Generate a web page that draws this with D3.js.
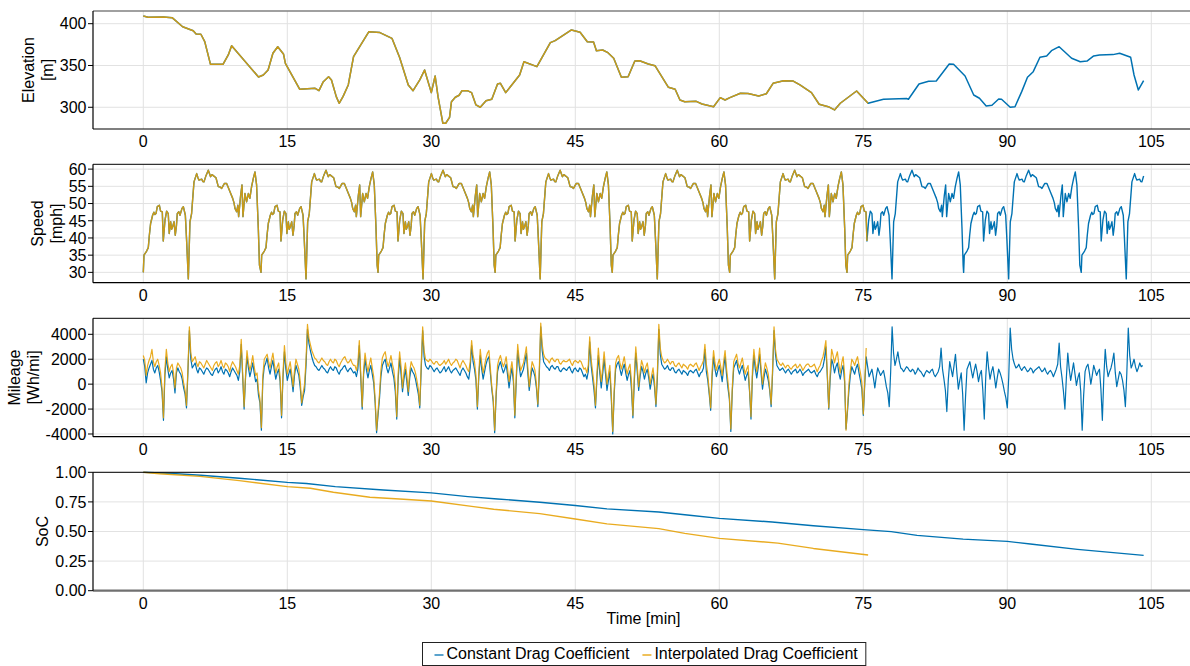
<!DOCTYPE html>
<html>
<head>
<meta charset="utf-8">
<script src="https://cdn.jsdelivr.net/npm/d3@7"></script>
<style>
  body { margin: 0; background: #fff; }
  svg { font-family: "Liberation Sans", Arial, Helvetica, sans-serif; }
</style>
</head>
<body>
<svg id="chart" width="1190" height="666"></svg>
<script>
/* global d3 */

// ---- data ----
const timeTicks = [0, 15, 30, 45, 60, 75, 90, 105];
const elevTicks = [300, 350, 400];
const speedTicks = [30, 35, 40, 45, 50, 55, 60];
const mileTicks = [-4000, -2000, 0, 2000, 4000];
const socTicks = [0, 0.25, 0.5, 0.75, 1.0];

const seriesNames = ['Constant Drag Coefficient', 'Interpolated Drag Coefficient'];

const endConst = 104.2;   // min, constant-Cd run ends
const endInterp = 75.5;   // min, interpolated-Cd run ends (battery limit)

// elevation [min, m] (same road for both runs)
const elevation = [[0,409.2],[0.5,407.7],[2.1,407.9],[3.0,407.2],[4.1,396.4],[5.2,391.6],[5.5,387.7],[6.0,387.4],[6.4,378.5],[7.0,351.4],[8.3,351.4],[8.85,362.6],[9.2,373.7],[12.0,336.2],[12.5,338.6],[13.0,344.6],[13.5,364.6],[14.0,372.5],[14.6,363.8],[14.8,352.6],[16.3,321.5],[17.9,322.7],[18.3,319.9],[18.75,330.6],[19.3,336.6],[19.6,332.7],[20.1,312.7],[20.4,304.8],[20.8,312.7],[21.35,326.7],[21.9,360.5],[23.5,390.4],[24.65,389.4],[25.9,382.5],[26.7,359.5],[27.6,326.7],[28.1,319.9],[28.8,332.7],[29.3,344.6],[30.0,317.5],[30.4,337.4],[30.7,312.7],[31.2,280.9],[31.5,280.9],[31.9,288],[32.1,306.7],[32.5,312],[32.9,314.4],[33.2,319.9],[33.75,319.9],[34.2,317.5],[34.65,302.8],[35.1,300],[35.7,307.9],[36.3,309.6],[36.9,327.9],[37.2,328.7],[37.75,317.5],[39.2,338.6],[39.65,354.5],[41.0,348.6],[42.4,377.3],[42.9,379.7],[44.6,392.5],[45.5,389.7],[46.25,378.5],[46.9,378.1],[47.2,367.7],[47.85,368.5],[48.4,365.3],[49.0,358.6],[49.8,335.9],[50.5,336.6],[51.2,355.4],[51.7,355.6],[52.6,351.8],[53.3,349.8],[54.7,323.9],[55.4,321.5],[55.9,308.7],[56.4,306.7],[57.6,307.1],[58.2,303.9],[59.4,300.7],[60.1,311.5],[60.6,308.7],[61.1,311.5],[62.2,316.7],[63.0,316.5],[64.1,313.5],[64.9,316.2],[65.6,328.7],[66.7,331.8],[67.7,331.4],[68.4,326.7],[69.6,317.5],[70.4,303.6],[71.35,300.7],[72.0,296.8],[72.6,304.8],[74.3,319.5],[75.5,304.8],[77.1,309.6],[79.5,310.4],[79.7,309.6],[80.8,327.9],[81.8,331.1],[82.6,331.4],[83.95,351.8],[84.4,351.4],[85.6,337.4],[86.5,314.7],[87.1,310.8],[87.8,301.6],[88.4,302.4],[89.1,309.9],[89.4,309.6],[90.3,300],[90.8,300.7],[91.5,318.7],[92.1,335.9],[92.7,342.6],[93.4,359.8],[94.1,361.4],[94.6,367.7],[95.4,372.5],[96.7,358.6],[97.6,354.5],[98.3,355.3],[99.0,361.4],[99.6,362.6],[101.0,363],[101.7,364.6],[102.85,359.8],[103.2,338.6],[103.65,320.7],[104.2,331.8]];

// speed: the drive cycle is run in laps; start time of each lap [min]
const lapStarts = [0, 12.26, 24.45, 36.65, 48.85, 61.08, 73.3, 85.45, 97.7];
// one lap of the speed trace [min into lap, mph]
const speedLap = [[0,30],[0.07,35],[0.35,36.2],[0.52,37.2],[0.63,40.8],[0.76,44.2],[0.97,46.6],[1.1,47.5],[1.2,46.8],[1.32,47.1],[1.46,49.1],[1.67,49.5],[1.8,47.8],[1.98,47.6],[2.08,39.1],[2.26,45.2],[2.43,47.8],[2.6,47.1],[2.7,41.3],[2.85,44.7],[2.95,42.5],[3.06,43.3],[3.2,44.7],[3.33,40.8],[3.45,43.5],[3.54,47.1],[3.7,47.6],[3.82,46.6],[4.03,48.6],[4.17,49.1],[4.38,46.6],[4.5,39.9],[4.69,28.1],[4.86,44.7],[5.03,47.1],[5.28,56.3],[5.56,58.7],[5.7,57.4],[5.8,56.8],[6.08,57.1],[6.2,56.4],[6.32,56.3],[6.53,58.1],[6.77,59.7],[7.01,57.8],[7.15,58.4],[7.29,58.1],[7.57,57.5],[7.81,54.9],[8.0,54.8],[8.16,54.4],[8.44,55.8],[8.68,55.8],[9.03,53.4],[9.31,51.5],[9.45,50.2],[9.55,48.6],[9.72,47.6],[9.85,49.5],[9.93,46.2],[10.14,52.4],[10.28,55.4],[10.38,46.2],[10.59,52.9],[10.76,50.5],[10.94,52.9],[11.1,51.5],[11.28,54.9],[11.46,57.3],[11.63,59.2],[11.8,55.4],[11.98,42.8],[12.1,32.1]];

// mileage [Wh/mi], one value every mileStep minutes from t = 0
const mileStep = 0.15;
const mileageConst = [
  2000, 1400, 100, 900, 1300, 1600, 1900, 1200, 900, 1300, 1500, 1000, 300, -600, -2900, 700, 2200, 1200, 500, 900,
  1100, 400, -700, 900, 1300, 1000, 800, 400, -300, -800, -1900, 1000, 4300, 2000, 1300, 1500, 1700, 1200, 900, 1300,
  1200, 1000, 800, 1100, 1300, 1200, 1000, 800, 700, 1000, 1200, 1300, 900, 1100, 1400, 1000, 800, 1200, 1100, 900,
  600, 1000, 1300, 1100, 900, 700, 300, 1000, 3200, 600, -2000, 500, 2200, 1300, 600, 1100, 1700, 900, 200, 400,
  -900, -1500, -3700, 300, 1400, 1700, 2100, 1300, 800, 1400, 1900, 1100, 400, 900, 1200, 200, -2700, 500, 2600, 1200,
  300, 800, 1200, 400, -600, 700, 1500, 1100, 700, -300, -1700, -1000, -500, 1500, 4400, 3300, 2700, 2200, 1800, 1500,
  1400, 1200, 1100, 1300, 1500, 1300, 1200, 1000, 900, 1200, 1400, 1200, 1100, 1400, 1300, 1000, 800, 1100, 1200, 1400,
  1500, 1200, 1000, 1200, 1300, 1100, 900, 1000, 600, 1200, 3100, 500, -2000, 800, 2000, 1100, 500, 1100, 1500, 800,
  100, -1500, -3900, -2500, -1200, 600, 1500, 1800, 2000, 1300, 900, 1300, 1700, 1000, 500, -600, -2800, 400, 2100, 800,
  -600, 400, 1200, 200, -900, 500, 1300, 1000, 800, 400, -200, -800, -1900, 1200, 4300, 2200, 1500, 1300, 1200, 1500,
  1400, 1200, 1000, 1200, 1300, 1100, 900, 1000, 1200, 1400, 1000, 1200, 1400, 1100, 900, 1100, 1200, 1300, 1100, 900,
  700, 1100, 1300, 1100, 900, 600, 400, 1300, 3100, 1800, 1200, 300, -2000, 600, 2300, 1200, 400, 1000, 1600, 2000,
  2200, 900, -400, -1400, -3900, -1000, 1000, 1500, 1800, 1300, 900, 1200, 1600, 700, -300, 600, 1300, 200, -2700, 300,
  2700, 1500, 600, 900, 1200, 1800, 2500, 900, -500, 500, 1300, 1000, 600, -300, -1800, 800, 4600, 2700, 1800, 1600,
  1400, 1300, 1100, 1400, 1500, 1300, 1200, 1400, 1400, 1100, 1000, 1200, 1300, 1200, 1100, 1300, 1400, 1100, 900, 1200,
  1300, 1100, 1000, 1300, 1200, 900, 600, 800, 400, 1000, 3400, 1500, 500, -500, -1900, 400, 2300, 900, -300, 800,
  2000, 800, -500, 300, 1000, -1200, -4000, -800, 1200, 1600, 1800, 1200, 700, 1200, 1600, 900, 300, 800, 1100, -400,
  -2700, 300, 2500, 1000, -500, 600, 1400, 1000, 400, 900, 1200, 500, -400, 300, 800, -200, -1800, 500, 4400, 2400,
  1600, 1400, 1200, 1300, 1500, 1200, 1100, 1300, 1300, 1000, 900, 1100, 1200, 1000, 800, 1100, 1000, 900, 700, 1000,
  1100, 1000, 900, 1100, 1200, 900, 600, 900, 1000, 1300, 2800, 1000, 300, -800, -2100, 600, 2200, 1200, 600, 1100,
  1500, 900, 200, 1300, 2200, 800, -300, -1200, -3800, -600, 1300, 1600, 1900, 1200, 800, 1200, 1500, 900, 300, 700,
  1000, -600, -2800, 600, 2300, 1200, 500, 1300, 2400, 900, -400, 500, 1200, 800, 300, -500, -1800, 900, 4300, 2400,
  1500, 1300, 1100, 1200, 1300, 1100, 900, 1100, 1200, 1000, 800, 1000, 1100, 1200, 900, 1000, 1200, 1000, 700, 900,
  1000, 1100, 1200, 1000, 900, 1000, 1100, 800, 600, 900, 1000, 1200, 1400, 2000, 3000, 600, -2000, 400, 2000, 1600,
  900, 1400, 1700, 900, 400, 1100, 1500, 200, -3600, -2200, -500, 700, 1400, 1100, 800, 1300, 1600, 900, 300, -400,
  -2500, 0, 2200, 1400, 600, 900, 1200, 500, -300, 600, 1300, 1000, 700, 900, 1100, 500, -200, -700, -1800, 1000,
  4600, 2500, 1500, 2000, 2600, 1800, 1300, 1200, 1000, 1200, 1400, 1300, 1100, 1000, 1200, 1100, 800, 1000, 1300, 1100,
  1000, 800, 600, 900, 1100, 1000, 900, 1100, 1200, 800, 600, 800, 1000, 1400, 2900, 1200, 400, -500, -2200, 300,
  1800, 1200, 600, 1500, 2400, 900, -400, 300, 900, -800, -3700, -1000, 1200, 1500, 1800, 1100, 500, 1100, 1600, 1000,
  200, 800, 1100, -500, -2800, 500, 2600, 1300, 400, 1000, 1400, 600, -300, 500, 1200, 900, 500, 0, -600, -1100,
  -1900, 600, 4500, 2800, 2000, 1600, 1300, 1400, 1600, 1300, 1100, 1300, 1400, 1200, 1000, 1100, 1300, 1200, 900, 1100,
  1200, 1300, 1400, 1200, 1000, 1100, 1300, 1000, 800, 1000, 1100, 900, 600, 900, 1200, 1600, 3300, 1400, 500, -600,
  -2000, 500, 2500, 1200, 300, 1000, 1700, 800, -100, 500, 900, -600, -3700, -900, 1000, 1400, 1600, 900, 0, 700,
  1500, 1100, 700, 1000, 1200, -400, -2900, 500, 2800, 1400, 600, 1000, 1300, 1800, 2500, 900, -200, 400, 1000, 800,
  300, -500, -1800, 900, 4500, 2300, 1300, 1600, 2000, 1400, 1000, 1300, 1700, 1400, 1500
];
const mileageInterp = [
  2300, 1900, 700, 1500, 1900, 2200, 2800, 1800, 1400, 1800, 2000, 1500, 900, -300, -2700, 1200, 2800, 1700, 1000, 1400,
  1600, 900, -300, 1300, 1700, 1500, 1300, 900, 100, -500, -1700, 1300, 4600, 2500, 1800, 2000, 2200, 1700, 1400, 1800,
  1700, 1500, 1300, 1600, 1900, 1700, 1500, 1300, 1100, 1500, 1700, 1800, 1400, 1600, 1900, 1500, 1300, 1700, 1600, 1400,
  1000, 1500, 1800, 1600, 1400, 1100, 800, 1500, 3600, 900, -1800, 800, 2700, 1700, 1100, 1600, 2300, 1400, 700, 900,
  -500, -1200, -3500, 700, 2000, 2200, 2400, 1800, 1300, 1900, 2500, 1600, 900, 1400, 1700, 600, -2500, 900, 3100, 1700,
  800, 1300, 1800, 900, -200, 1100, 2000, 1600, 1200, 200, -1500, -700, 0, 2000, 4800, 3700, 3200, 2700, 2400, 2100,
  2000, 1800, 1700, 1900, 2100, 1900, 1800, 1600, 1500, 1800, 2000, 1800, 1700, 2000, 1900, 1600, 1400, 1700, 1900, 2100,
  2200, 1900, 1700, 1800, 2000, 1700, 1500, 1500, 1100, 1700, 3500, 900, -1800, 1200, 2500, 1600, 1000, 1600, 2100, 1300,
  600, -1200, -3700, -2200, -800, 1100, 2100, 2400, 2600, 1900, 1400, 1800, 2300, 1600, 1100, 0, -2600, 900, 2600, 1400,
  -300, 900, 1700, 700, -600, 1000, 1800, 1500, 1300, 900, 300, -400, -1700, 1600, 4600, 2700, 2000, 1900, 1800, 2000,
  1900, 1700, 1600, 1800, 1800, 1600, 1500, 1600, 1700, 1900, 1600, 1800, 2000, 1700, 1500, 1700, 1800, 2000, 1900, 1600,
  1300, 1700, 1900, 1700, 1500, 1200, 1000, 1800, 3500, 2300, 1800, 700, -1800, 1000, 2800, 1700, 900, 1500, 2100, 2500,
  2700, 1300, -200, -1200, -3700, -700, 1500, 2000, 2300, 1800, 1400, 1700, 2200, 1200, 200, 1100, 1800, 700, -2500, 700,
  3200, 2000, 1100, 1400, 1700, 2300, 3000, 1400, -200, 900, 1800, 1500, 1100, 0, -1600, 1300, 4900, 3200, 2400, 2100,
  2000, 1900, 1700, 2000, 2100, 1900, 1800, 2000, 2000, 1700, 1600, 1800, 1900, 1800, 1800, 1900, 2000, 1700, 1500, 1800,
  1900, 1800, 1700, 1900, 1800, 1500, 1200, 1300, 900, 1500, 3800, 2000, 1000, 0, -1700, 800, 2900, 1400, 200, 1300,
  2600, 1300, 0, 800, 1500, -800, -3800, -500, 1700, 2100, 2300, 1700, 1200, 1700, 2200, 1400, 800, 1300, 1600, 200,
  -2500, 800, 3000, 1500, -200, 1000, 1900, 1500, 900, 1400, 1700, 900, 0, 700, 1300, 200, -1600, 1000, 4800, 2900,
  2200, 1900, 1700, 1800, 2000, 1800, 1600, 1800, 1800, 1500, 1400, 1600, 1700, 1500, 1300, 1600, 1500, 1400, 1200, 1500,
  1600, 1500, 1400, 1600, 1700, 1400, 1100, 1400, 1600, 1900, 3200, 1600, 800, -600, -1900, 1100, 2700, 1700, 1100, 1600,
  2000, 1400, 700, 1800, 2700, 1300, 200, -1000, -3600, -300, 1800, 2100, 2400, 1700, 1300, 1700, 2100, 1400, 800, 1200,
  1500, -400, -2600, 1100, 2800, 1700, 1000, 1800, 2900, 1300, 0, 1000, 1700, 1300, 800, -300, -1600, 1300, 4600, 2800,
  2000, 1800, 1600, 1500, 1700, 1500, 1300, 1500, 1500, 1300, 1200, 1400, 1500, 1600, 1300, 1400, 1600, 1400, 1100, 1300,
  1500, 1600, 1600, 1400, 1400, 1500, 1600, 1300, 1000, 1300, 1500, 1900, 2200, 2800, 3500, 900, -1900, 1000, 2800, 2300,
  1700, 2200, 2600, 1600, 900, 1700, 2200, 800, -3700, -2000, 0, 1100, 2000, 1800, 1500, 1900, 2200, 1500, 900, 100,
  -2400, 300, 2900
];

// state of charge [min, fraction]
const socConst = [[0,1.0],[3,0.99],[6,0.975],[10,0.95],[15,0.915],[17,0.905],[20,0.879],[25,0.851],[30,0.826],[33.8,0.795],[36.9,0.775],[41.3,0.747],[45,0.719],[48.3,0.691],[53.7,0.665],[56.9,0.637],[60,0.611],[65.5,0.58],[69.8,0.549],[75,0.516],[77.9,0.499],[80.6,0.467],[85.4,0.436],[90,0.417],[92.4,0.394],[97.3,0.349],[104.2,0.298]];
const socInterp = [[0,1.0],[1.7,0.988],[5.9,0.966],[10,0.93],[15,0.879],[17.4,0.865],[19.8,0.831],[23.6,0.789],[26.7,0.775],[30,0.758],[34.4,0.71],[36.5,0.688],[41.3,0.651],[45,0.606],[48.3,0.564],[53.7,0.524],[56.4,0.484],[60,0.442],[66.1,0.402],[69.8,0.357],[75.5,0.301]];

// ---- assemble series ----
var speedAll = [];
lapStarts.forEach(function(start, i) {
  var next = i + 1 < lapStarts.length ? lapStarts[i + 1] : Infinity;
  speedLap.forEach(function(p) {
    var t = start + p[0];
    if (t < next) speedAll.push([t, p[1]]);
  });
});
speedAll.push([endConst, 58]);
speedAll = speedAll.filter(d => d[0] <= endConst).sort((a, b) => a[0] - b[0]);

const upTo = (arr, end) => arr.filter(d => d[0] <= end + 1e-9);
const mileSeries = arr => arr.map((v, i) => [i * mileStep, v]);

const blue = '#0072B2';
const orange = '#E69F00';

const panels = [
  { top: 11, bottom: 129, domain: [274, 415.2], ticks: elevTicks, fmt: d => String(d),
    title: ['Elevation', '[m]'], topLine: '#808080', bottomLine: '#000',
    series: [upTo(elevation, endConst), upTo(elevation, endInterp)], width: 1.5 },
  { top: 164.3, bottom: 282.7, domain: [27.0, 61.4], ticks: speedTicks, fmt: d => String(d),
    title: ['Speed', '[mph]'], topLine: '#000', bottomLine: '#000',
    series: [speedAll, upTo(speedAll, 75.4)], width: 1.4 },
  { top: 318.3, bottom: 436.7, domain: [-4217, 5284], ticks: mileTicks, fmt: d => String(d),
    title: ['Mileage', '[Wh/mi]'], topLine: '#000', bottomLine: '#000',
    series: [mileSeries(mileageConst), mileSeries(mileageInterp)], width: 1.2 },
  { top: 472.3, bottom: 590.7, domain: [0, 1], ticks: socTicks, fmt: d3.format('.2f'),
    title: ['SoC'], topLine: '#000', bottomLine: '#707070',
    series: [socConst, socInterp], width: 1.4 }
];

// ---- drawing ----
const svg = d3.select('#chart');
const x = d3.scaleLinear().domain([-5.24, 109.03]).range([93, 1190]);
const left = x.range()[0], right = x.range()[1];

panels.forEach(function(p) {
  var y = d3.scaleLinear().domain(p.domain).range([p.bottom, p.top]);
  var g = svg.append('g');

  g.selectAll('line.gx').data(timeTicks).enter().append('line')
    .attr('class', 'gx')
    .attr('x1', d => x(d)).attr('x2', d => x(d))
    .attr('y1', p.top).attr('y2', p.bottom)
    .attr('stroke', '#e2e2e2').attr('stroke-width', 1);

  g.selectAll('line.gy').data(p.ticks).enter().append('line')
    .attr('class', 'gy')
    .attr('x1', left).attr('x2', right)
    .attr('y1', d => y(d)).attr('y2', d => y(d))
    .attr('stroke', '#e2e2e2').attr('stroke-width', 1);

  var line = d3.line().x(d => x(d[0])).y(d => y(d[1]));
  [blue, orange].forEach(function(c, i) {
    g.append('path').datum(p.series[i])
      .attr('d', line)
      .attr('fill', 'none')
      .attr('stroke', c)
      .attr('stroke-opacity', i === 1 ? 0.88 : 1)
      .attr('stroke-width', p.width)
      .attr('stroke-linejoin', 'round');
  });

  // frame
  g.append('line').attr('x1', left).attr('x2', right).attr('y1', p.top).attr('y2', p.top)
    .attr('stroke', p.topLine).attr('stroke-width', p.topLine === '#000' ? 1 : 1.6);
  g.append('line').attr('x1', left).attr('x2', right).attr('y1', p.bottom).attr('y2', p.bottom)
    .attr('stroke', p.bottomLine).attr('stroke-width', p.bottomLine === '#000' ? 1.2 : 2.2);
  g.append('line').attr('x1', left).attr('x2', left).attr('y1', p.top).attr('y2', p.bottom)
    .attr('stroke', '#000').attr('stroke-width', 1.2);

  // y ticks and labels
  g.selectAll('line.ty').data(p.ticks).enter().append('line')
    .attr('class', 'ty')
    .attr('x1', left - 5).attr('x2', left)
    .attr('y1', d => y(d)).attr('y2', d => y(d))
    .attr('stroke', '#000').attr('stroke-width', 1);

  var yl = g.append('g').attr('font-size', 16).attr('fill', '#000');
  yl.selectAll('text').data(p.ticks).enter().append('text')
    .attr('x', left - 6.5).attr('y', d => y(d)).attr('dy', '0.36em')
    .attr('text-anchor', 'end')
    .text(p.fmt);

  // x labels
  g.append('g').attr('font-size', 16).selectAll('text').data(timeTicks).enter().append('text')
    .attr('x', d => x(d)).attr('y', p.bottom + 18)
    .attr('text-anchor', 'middle')
    .text(d => d);

  // axis title, stacked lines, placed left of the widest tick label
  var bb = yl.node().getBBox();
  var base = bb.x - 7;
  var yc = (p.top + p.bottom) / 2;
  var n = p.title.length;
  p.title.forEach(function(s, i) {
    g.append('text')
      .attr('transform', `translate(${base - (n - 1 - i) * 19},${yc}) rotate(-90)`)
      .attr('text-anchor', 'middle')
      .attr('font-size', 16)
      .text(s);
  });
});

svg.append('text')
  .attr('x', (left + right) / 2 + 2).attr('y', 624)
  .attr('text-anchor', 'middle').attr('font-size', 16)
  .text('Time [min]');

// legend
var lg = svg.append('g');
var box = lg.append('rect')
  .attr('fill', '#fff').attr('stroke', '#222').attr('stroke-width', 1);
var cx = 12;
[blue, orange].forEach(function(c, i) {
  lg.append('line')
    .attr('x1', cx).attr('x2', cx + 9).attr('y1', 12.5).attr('y2', 12.5)
    .attr('stroke', c).attr('stroke-width', 1.3);
  var t = lg.append('text')
    .attr('x', cx + 12).attr('y', 16.5)
    .attr('font-size', 16)
    .text(seriesNames[i]);
  cx += 12 + t.node().getComputedTextLength() + 13;
});
var bw = cx - 13 + 8;
box.attr('x', 0).attr('y', 0).attr('width', bw).attr('height', 23);
lg.attr('transform', `translate(${Math.round((left + right) / 2 + 2 - bw / 2) + 0.5},642.5)`);
</script>
</body>
</html>
